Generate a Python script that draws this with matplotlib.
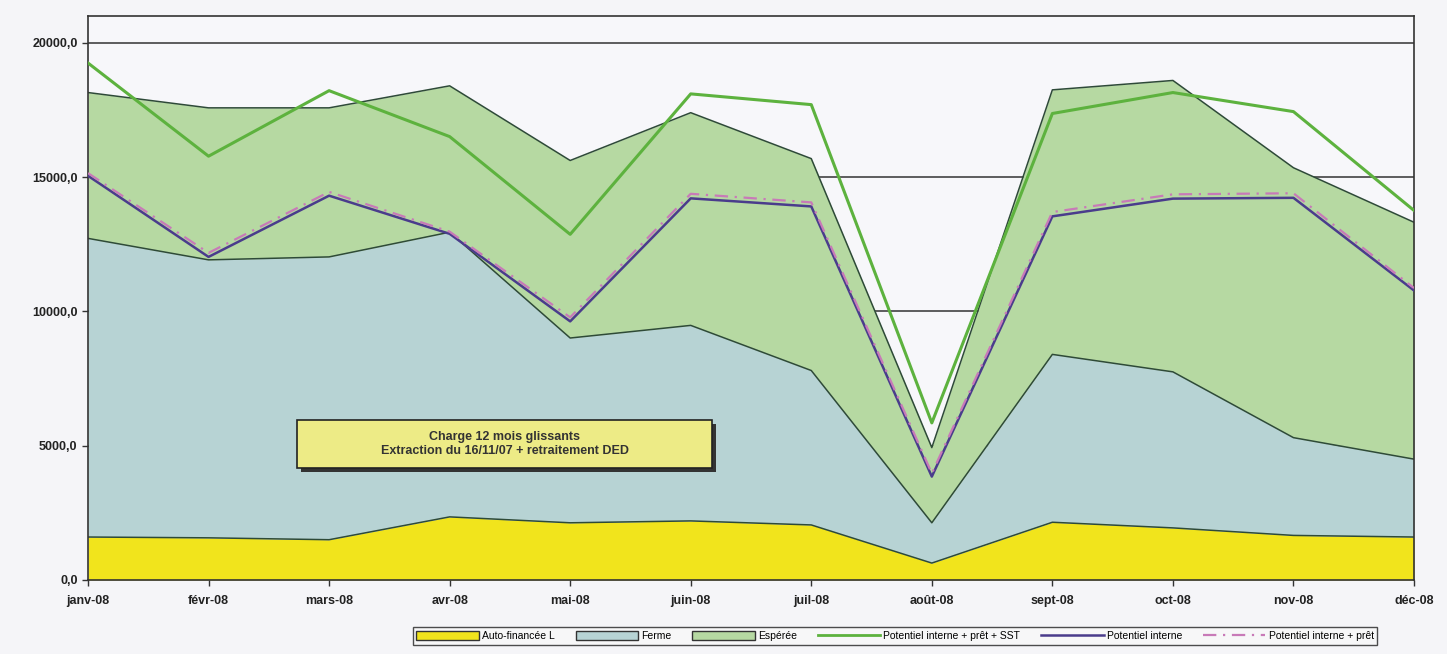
import numpy as np
import matplotlib
matplotlib.use("Agg")
import matplotlib.pyplot as plt
from matplotlib.patches import Rectangle, Patch
from matplotlib.lines import Line2D

plt.rcParams["font.family"] = ["Liberation Sans", "DejaVu Sans"]

months = ["janv-08", "févr-08", "mars-08", "avr-08", "mai-08", "juin-08",
          "juil-08", "août-08", "sept-08", "oct-08", "nov-08", "déc-08"]

# stacked areas (increments)
auto_financee = [1600, 1570, 1500, 2350, 2130, 2200, 2050, 630, 2150, 1940, 1660, 1600]
ferme = [11120, 10350, 10530, 10600, 6880, 7280, 5750, 1500, 6250, 5810, 3640, 2900]
esperee = [5430, 5660, 5550, 5450, 6610, 7920, 7890, 2800, 9850, 10850, 10050, 8820]

# lines
pot_pret_sst = [19250, 15780, 18220, 16510, 12870, 18100, 17700, 5850, 17370, 18150, 17440, 13760]
pot_interne = [15050, 12030, 14310, 12890, 9630, 14210, 13910, 3850, 13540, 14200, 14230, 10780]
pot_pret = [15150, 12180, 14450, 12970, 9780, 14380, 14060, 3970, 13700, 14360, 14400, 10870]

C_YELLOW = "#F1E41C"
C_FERME = "#B7D3D4"
C_ESP = "#B6D9A2"
C_SST = "#5DB23E"
C_INT = "#4A3C8C"
C_PRET = "#C87AB8"
C_EDGE = "#2E4A38"


def main():
    fig = plt.figure(figsize=(14.47, 6.54), dpi=100)
    fig.patch.set_facecolor("#F5F5F8")
    ax = fig.add_axes([88 / 1447, 1 - 580 / 654, 1326 / 1447, (580 - 16) / 654])
    ax.set_facecolor("#F7F7FA")

    x = np.arange(len(months))
    a = np.array(auto_financee)
    f = a + np.array(ferme)
    e = f + np.array(esperee)

    # gridlines behind the areas
    for yv in [5000, 10000, 15000, 20000]:
        ax.axhline(yv, color="#333333", lw=1.1, zorder=0)

    ax.fill_between(x, 0, a, color=C_YELLOW, lw=0, zorder=1)
    ax.fill_between(x, a, f, color=C_FERME, lw=0, zorder=1)
    ax.fill_between(x, f, e, color=C_ESP, lw=0, zorder=1)
    for top in (a, f, e):
        ax.plot(x, top, color=C_EDGE, lw=1.1, zorder=2)

    ax.plot(x, pot_pret_sst, color=C_SST, lw=2.2, zorder=3)
    ax.plot(x, pot_interne, color=C_INT, lw=1.8, zorder=4)
    ax.plot(x, pot_pret, color=C_PRET, lw=1.6, ls=(0, (6, 3, 1, 3)), zorder=5)

    ax.set_xlim(0, 11)
    ax.set_ylim(0, 21000)
    ax.set_yticks([0, 5000, 10000, 15000, 20000])
    ax.set_yticklabels(["0,0", "5000,0", "10000,0", "15000,0", "20000,0"],
                       fontsize=9, fontweight="bold", color="#222222")
    ax.set_xticks(x)
    ax.set_xticklabels(months, fontsize=9, fontweight="bold", color="#222222")
    ax.tick_params(axis="both", direction="out", length=4, width=1, color="#333333")
    ax.tick_params(axis="x", pad=7)
    for s in ax.spines.values():
        s.set_color("#333333")
        s.set_linewidth(1.2)

    # annotation box
    bx, by, bw, bh = 297 / 1447, 1 - 468 / 654, 415 / 1447, 48 / 654
    fig.patches.append(Rectangle((bx + 0.003, by - 0.006), bw, bh, transform=fig.transFigure,
                                 facecolor="#333333", edgecolor="none", zorder=5))
    fig.patches.append(Rectangle((bx, by), bw, bh, transform=fig.transFigure,
                                 facecolor="#EDEB86", edgecolor="#222222", lw=1.2, zorder=6))
    fig.text(bx + bw / 2, by + bh / 2,
             "Charge 12 mois glissants\nExtraction du 16/11/07 + retraitement DED",
             ha="center", va="center", fontsize=9, fontweight="bold", color="#333333",
             linespacing=1.2, zorder=7)

    handles = [
        Patch(facecolor=C_YELLOW, edgecolor="#333333", label="Auto-financée L"),
        Patch(facecolor=C_FERME, edgecolor="#333333", label="Ferme"),
        Patch(facecolor=C_ESP, edgecolor="#333333", label="Espérée"),
        Line2D([], [], color=C_SST, lw=2, label="Potentiel interne + prêt + SST"),
        Line2D([], [], color=C_INT, lw=1.8, label="Potentiel interne"),
        Line2D([], [], color=C_PRET, lw=1.6, ls=(0, (6, 3, 1, 3)), label="Potentiel interne + prêt"),
    ]
    leg = fig.legend(handles=handles, loc="center", bbox_to_anchor=(895 / 1447, 1 - 636 / 654),
                     ncol=6, fontsize=7.5, frameon=True, fancybox=False, handlelength=6,
                     handleheight=0.9, handletextpad=0.3, columnspacing=2.0,
                     borderpad=0.35, edgecolor="#222222")
    leg.get_frame().set_facecolor("#F8F8F8")
    leg.get_frame().set_linewidth(1.0)

    fig.savefig("out.png", dpi=100, facecolor=fig.get_facecolor())
    plt.close(fig)


if __name__ == "__main__":
    main()
